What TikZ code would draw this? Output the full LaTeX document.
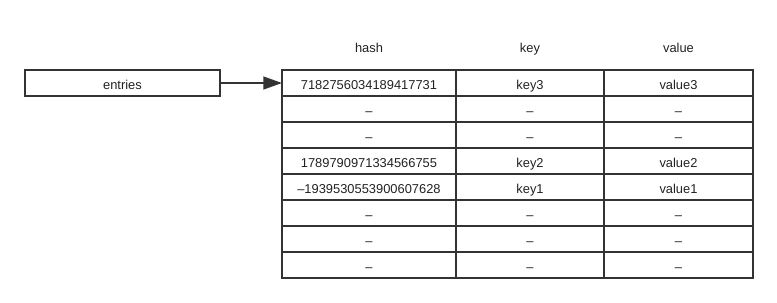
\documentclass[tikz,border=0pt]{standalone}
\usepackage{fontspec}
\setmainfont{Liberation Sans}
\usepackage{tikz}
\usetikzlibrary{arrows.meta, positioning}
\definecolor{linegray}{HTML}{333333}
\definecolor{textgray}{HTML}{222222}

\begin{document}
\begin{tikzpicture}[x=0.03cm, y=-0.03cm,
    cell/.style={draw=linegray, line width=1.6pt, outer sep=0pt, inner sep=0pt,
                 minimum height=0.78cm, text height=12.5pt, text depth=1.8pt,
                 text=textgray, font=\fontsize{11}{13}\selectfont},
    hashcell/.style={cell, minimum width=5.22cm},
    keycell/.style={cell, minimum width=4.44cm},
    valuecell/.style={cell, minimum width=4.47cm},
    header/.style={text height=12.5pt, text depth=1.8pt, text=textgray,
                   font=\fontsize{11}{13}\selectfont}]
    \useasboundingbox (0,0) rectangle (777,302);

    % column headers
    \node[header] (hashhead) at (369,46) {hash};
    \node[header] (keyhead) at (530,46) {key};
    \node[header] (valuehead) at (678.5,46) {value};

    % entries pointer
    \node[cell, minimum width=5.85cm] (entries) at (122.5,83) {entries};

    % table rows
    \foreach \i/\h/\k/\v in {1/7182756034189417731/key3/value3, 2/–/–/–, 3/–/–/–,
        4/1789790971334566755/key2/value2, 5/–1939530553900607628/key1/value1,
        6/–/–/–, 7/–/–/–, 8/–/–/–} {
        \node[hashcell] (h\i) at (369,{57+26*\i}) {\h};
        \node[keycell] (k\i) at (530,{57+26*\i}) {\k};
        \node[valuecell] (v\i) at (678.5,{57+26*\i}) {\v};
    }

    \draw[-{Triangle[length=16pt, width=11pt]}, line width=1.6pt, linegray]
        (entries.east) -- (h1.west);
\end{tikzpicture}
\end{document}
